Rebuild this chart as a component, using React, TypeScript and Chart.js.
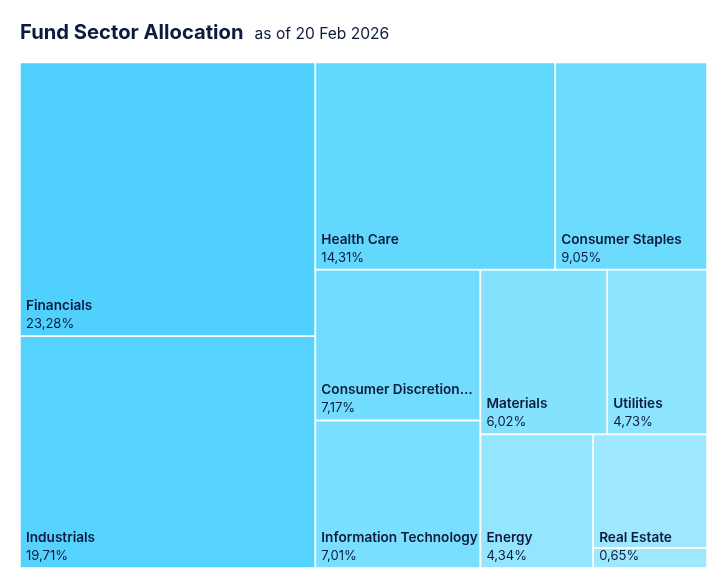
import React, { useEffect, useRef } from "react";
import { Chart, registerables } from "chart.js";

Chart.register(...registerables);

// ---- data ----
const sectors = [
  "Financials",
  "Industrials",
  "Health Care",
  "Consumer Staples",
  "Consumer Discretionary",
  "Information Technology",
  "Materials",
  "Utilities",
  "Energy",
  "",
  "Real Estate",
];
const weights = [23.28, 19.71, 14.31, 9.05, 7.17, 7.01, 6.02, 4.73, 4.34, 3.73, 0.65];
const cellColors = [
  "#4fd0fd",
  "#55d2fd",
  "#62d8fe",
  "#6cdbfe",
  "#72dcfe",
  "#7adffe",
  "#84e2fe",
  "#8ce4fe",
  "#94e6fe",
  "#9de8fe",
  "#9fe9fe",
];
const titleText = "Fund Sector Allocation";
const subtitleText = "as of 20 Feb 2026";

const TEXT_COLOR = "#0d1b3e";
const FONT = "Inter, 'Noto Sans', sans-serif";

type Rect = { x: number; y: number; w: number; h: number };
type Item = { i: number; a: number };

function worst(row: Item[], side: number): number {
  let s = 0,
    mx = -Infinity,
    mn = Infinity;
  for (const r of row) {
    s += r.a;
    mx = Math.max(mx, r.a);
    mn = Math.min(mn, r.a);
  }
  return Math.max((side * side * mx) / (s * s), (s * s) / (side * side * mn));
}

function squarify(items: Item[], rect: Rect): { i: number; r: Rect }[] {
  const out: { i: number; r: Rect }[] = [];
  let rem = items.slice();
  let cur = { ...rect };
  while (rem.length) {
    const side = Math.min(cur.w, cur.h);
    const row: Item[] = [rem[0]];
    let k = 1;
    while (k < rem.length && worst([...row, rem[k]], side) <= worst(row, side)) {
      row.push(rem[k]);
      k++;
    }
    rem = rem.slice(k);
    const s = row.reduce((t, r) => t + r.a, 0);
    if (cur.w >= cur.h) {
      const cw = s / cur.h;
      let y = cur.y;
      for (const r of row) {
        const hh = r.a / cw;
        out.push({ i: r.i, r: { x: cur.x, y, w: cw, h: hh } });
        y += hh;
      }
      cur = { x: cur.x + cw, y: cur.y, w: cur.w - cw, h: cur.h };
    } else {
      const rh = s / cur.w;
      let x = cur.x;
      for (const r of row) {
        const ww = r.a / rh;
        out.push({ i: r.i, r: { x, y: cur.y, w: ww, h: rh } });
        x += ww;
      }
      cur = { x: cur.x, y: cur.y + rh, w: cur.w, h: cur.h - rh };
    }
  }
  return out;
}

function fitText(ctx: CanvasRenderingContext2D, text: string, maxW: number): string {
  if (ctx.measureText(text).width <= maxW) return text;
  let t = text;
  while (t.length > 1 && ctx.measureText(t + "\u2026").width > maxW) t = t.slice(0, -1);
  return t + "\u2026";
}

const treemapPlugin = {
  id: "treemapCells",
  afterDatasetsDraw(chart: any) {
    const { ctx, chartArea, scales } = chart;
    const xs = scales.x;
    const ys = scales.y;
    const kx = chartArea.width / 100;
    const ky = chartArea.height / 100;
    const total = weights.reduce((t, v) => t + v, 0);
    const W = 100 * kx;
    const H = 100 * ky;
    const items = weights.map((v, i) => ({ i, a: (v / total) * W * H }));
    const laid = squarify(items, { x: 0, y: 0, w: W, h: H });
    const cells = laid.map(({ i, r }) => {
      const x0 = xs.getPixelForValue(r.x / kx);
      const x1 = xs.getPixelForValue((r.x + r.w) / kx);
      const y0 = ys.getPixelForValue(r.y / ky);
      const y1 = ys.getPixelForValue((r.y + r.h) / ky);
      return { i, x0, x1, y0, y1 };
    });
    ctx.save();
    for (const c of cells) {
      ctx.fillStyle = cellColors[c.i];
      ctx.fillRect(c.x0, c.y0, c.x1 - c.x0, c.y1 - c.y0);
    }
    ctx.strokeStyle = "#ffffff";
    ctx.lineWidth = 1.5;
    for (const c of cells) {
      ctx.strokeRect(c.x0, c.y0, c.x1 - c.x0, c.y1 - c.y0);
    }
    ctx.fillStyle = TEXT_COLOR;
    ctx.textBaseline = "alphabetic";
    ctx.textAlign = "left";
    for (const c of cells) {
      const name = sectors[c.i];
      if (!name) continue;
      const pad = 6;
      const maxW = c.x1 - c.x0 - pad - 1;
      ctx.font = `600 13.6px ${FONT}`;
      ctx.fillText(fitText(ctx, name, maxW), c.x0 + pad, c.y1 - 26);
      ctx.font = `400 13px ${FONT}`;
      ctx.fillText(weights[c.i].toFixed(2).replace(".", ",") + "%", c.x0 + pad, c.y1 - 8);
    }
    ctx.restore();
  },
};

export default function App() {
  const ref = useRef<HTMLCanvasElement | null>(null);
  useEffect(() => {
    if (!ref.current) return;
    const chart = new Chart(ref.current, {
      type: "scatter",
      data: { datasets: [{ data: [] as any[] }] },
      options: {
        animation: false,
        responsive: false,
        devicePixelRatio: 1,
        layout: { padding: { left: 12, top: 54.5, right: 6, bottom: 8 } },
        scales: {
          x: { type: "linear", min: 0, max: 100, display: false },
          y: { type: "linear", min: 0, max: 100, reverse: true, display: false },
        },
        plugins: { legend: { display: false }, tooltip: { enabled: false }, title: { display: false } },
      },
      plugins: [treemapPlugin],
    });
    return () => chart.destroy();
  }, []);
  return (
    <div style={{ position: "relative", width: 705, height: 568, fontFamily: FONT }}>
      <canvas ref={ref} width={705} height={568} style={{ position: "absolute", left: 0, top: 0 }} />
      <div
        style={{
          position: "absolute",
          left: 12,
          top: 14,
          lineHeight: "20px",
          whiteSpace: "nowrap",
          color: TEXT_COLOR,
        }}
      >
        <span style={{ fontSize: 20.2, fontWeight: 700 }}>{titleText}</span>
        <span style={{ fontSize: 15.6, fontWeight: 400, marginLeft: 11 }}>{subtitleText}</span>
      </div>
    </div>
  );
}
